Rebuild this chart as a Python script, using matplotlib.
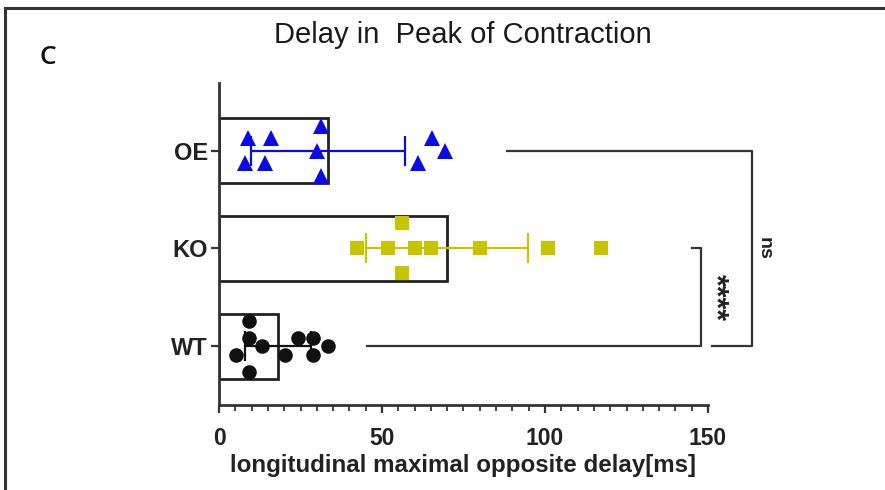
import numpy as np
import matplotlib
matplotlib.use("Agg")
import matplotlib.pyplot as plt
from matplotlib import font_manager
from matplotlib.ticker import MultipleLocator
from matplotlib.lines import Line2D

# ---- data -------------------------------------------------------------
groups = ["WT", "KO", "OE"]
wt_delay = [5.2, 9.2, 9.2, 9.2, 13.1, 20.2, 24.1, 28.7, 28.7, 33.5]
ko_delay = [42.2, 51.9, 56.0, 56.0, 60.1, 65.0, 80.2, 101.0, 117.3]
oe_delay = [8.0, 8.9, 14.1, 16.0, 30.0, 31.3, 31.3, 61.0, 65.3, 69.3]
x_ticks = [0, 50, 100, 150]
sig_labels = ["****", "ns"]          # WT vs KO, WT vs OE

title = "Delay in  Peak of Contraction"
x_label = "longitudinal maximal opposite delay[ms]"
panel_letter = "C"


def pick_font(candidates):
    for name in candidates:
        try:
            path = font_manager.findfont(name, fallback_to_default=False)
            if path:
                return name
        except Exception:
            continue
    return "DejaVu Sans"


SANS = pick_font(["Liberation Sans", "Arial", "DejaVu Sans"])
NARROW = pick_font(["Liberation Sans Narrow", "Arial Narrow", "Liberation Sans"])
LETTER = pick_font(["Open Sans", "Lato", "DejaVu Sans"])

W, H = 885, 490
fig = plt.figure(figsize=(W / 100, H / 100), dpi=100)
fig.patch.set_facecolor("white")

ax_box = [219, 83, 708, 405]        # left, top, right, bottom in pixels
ax = fig.add_axes([ax_box[0] / W, 1 - ax_box[3] / H,
                   (ax_box[2] - ax_box[0]) / W, (ax_box[3] - ax_box[1]) / H])
ax.set_xlim(0, 150)
ax.set_ylim(-0.6, 2.69)

px_per_x = (ax_box[2] - ax_box[0]) / 150.0
px_per_cat = (ax_box[3] - ax_box[1]) / (2.69 + 0.6)


def swarm_offsets(values, marker_px, step_px):
    """Stack neighbouring points vertically, centred on the category."""
    vals = np.asarray(values, dtype=float)
    order = np.argsort(vals, kind="stable")
    sv = vals[order]
    offs = np.zeros(len(sv))
    i = 0
    while i < len(sv):
        j = i + 1
        while j < len(sv) and (sv[j] - sv[i]) * px_per_x < marker_px:
            j += 1
        n = j - i
        if n % 2:
            rows = [0.0]
            k = 1
            while len(rows) < n:
                rows += [-k, k]
                k += 1
        else:
            rows = []
            k = 0.5
            while len(rows) < n:
                rows += [-k, k]
                k += 1
        offs[i:j] = np.array(rows[:n]) * step_px
        i = j
    res = np.empty(len(sv))
    res[order] = offs
    return res / px_per_cat


series = [
    (wt_delay, "#111111", "o", 10.5, 15, 17),
    (ko_delay, "#c9c400", "s", 10.5, 15, 25),
    (oe_delay, "#0b0be8", "^", 11.0, 15, 25),
]

for pos, (vals, color, marker, msize, near_px, step_px) in enumerate(series):
    vals = np.asarray(vals)
    mean = vals.mean()
    sd = vals.std(ddof=1)
    ax.barh(pos, mean, height=0.66, facecolor="white", edgecolor="#222222",
            linewidth=2.0, zorder=1)
    ax.errorbar(mean, pos, xerr=sd, fmt="none", ecolor=color,
                elinewidth=1.6, capsize=11, capthick=1.6, zorder=2)
    yoff = swarm_offsets(vals, near_px, step_px)
    ax.plot(vals, pos + yoff, linestyle="none", marker=marker, markersize=msize,
            color=color, markeredgewidth=0, zorder=3, clip_on=False)

# significance brackets (drawn in data coordinates outside the axes)
bk = dict(color="#333333", linewidth=1.6, clip_on=False, zorder=4)
ax.plot([45.4, 147.7, 147.7, 145.0], [0, 0, 1, 1], **bk)
ax.plot([151.2, 163.5, 163.5, 88.3], [0, 0, 2, 2], **bk)
ax.text(152.2, 0.5, sig_labels[0], rotation=270, ha="center", va="center",
        fontsize=22, fontweight="bold", family=SANS, color="#222222",
        clip_on=False)
ax.text(167.2, 1.0, sig_labels[1], rotation=270, ha="center", va="center",
        fontsize=14, fontweight="bold", family=SANS, color="#222222",
        clip_on=False)

# axes styling
for side in ("top", "right"):
    ax.spines[side].set_visible(False)
for side in ("left", "bottom"):
    ax.spines[side].set_linewidth(2.0)
    ax.spines[side].set_color("#333333")

ax.set_yticks(range(len(groups)))
ax.set_yticklabels(groups)
ax.set_xticks(x_ticks)
ax.set_xticklabels([str(t) for t in x_ticks])
ax.xaxis.set_minor_locator(MultipleLocator(5))
ax.tick_params(axis="x", which="major", length=6, width=1.6, color="#333333",
               pad=10, labelsize=16.5)
ax.tick_params(axis="x", which="minor", length=4, width=1.3, color="#333333")
ax.tick_params(axis="y", which="major", length=6, width=1.6, color="#333333",
               pad=2, labelsize=17)
for lab in ax.get_xticklabels() + ax.get_yticklabels():
    lab.set_fontweight("bold")
    lab.set_family(SANS)
    lab.set_color("#222222")

ax.set_xlabel(x_label, fontsize=17.4, fontweight="bold", family=SANS,
              color="#222222", labelpad=3)

# title and panel letter
fig.text(463 / W, 1 - 35 / H, title, ha="center", va="center",
         fontsize=21, family=NARROW, color="#1a1a1a")
fig.text(48 / W, 1 - 58 / H, panel_letter, ha="center", va="center",
         fontsize=19, family=LETTER, fontweight="semibold", color="#111111")

# outer frame (top and left edges)
frame = dict(color="#333333", linewidth=2.2, transform=fig.transFigure)
fig.add_artist(Line2D([5 / W, 1.0], [1 - 8 / H, 1 - 8 / H], **frame))
fig.add_artist(Line2D([5 / W, 5 / W], [0.0, 1 - 8 / H], **frame))

fig.savefig("out.png", dpi=100, facecolor="white")
